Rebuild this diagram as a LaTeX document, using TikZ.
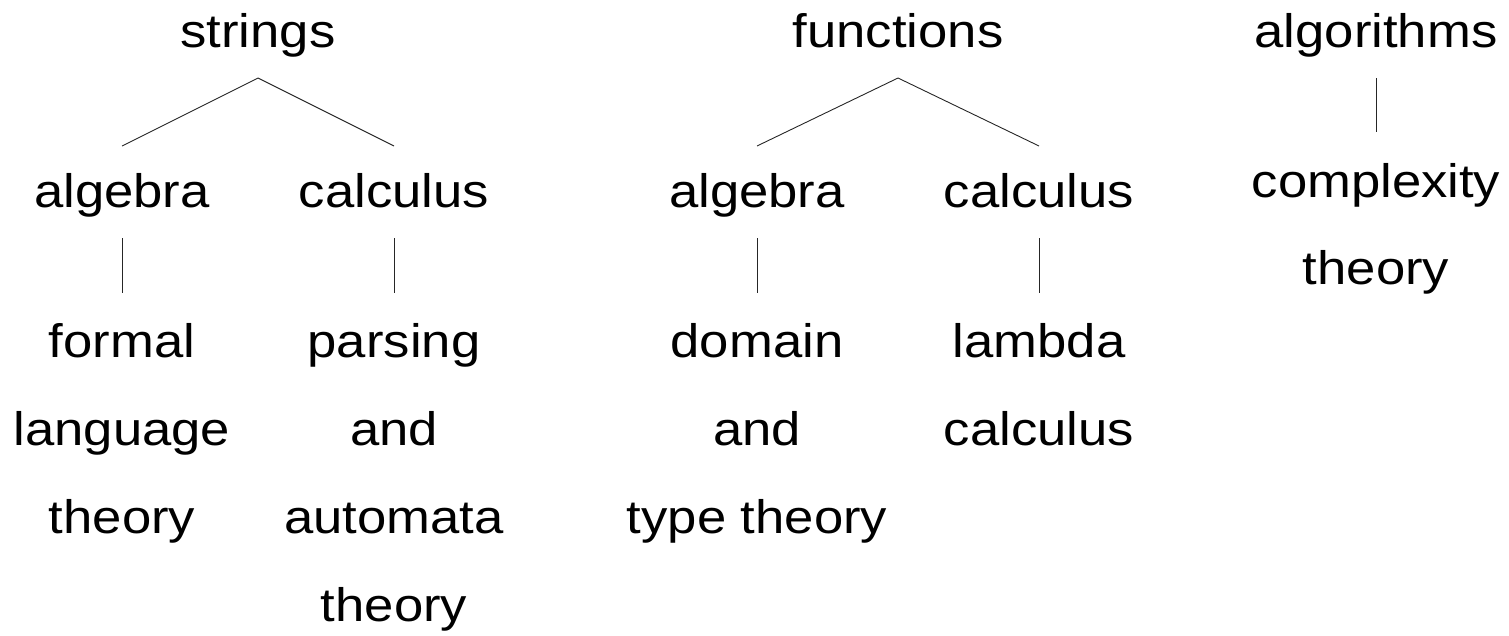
\documentclass[tikz,border=0pt]{standalone}
\usepackage{fontspec}
\setmainfont{Liberation Sans}[FakeStretch=1.12]
\begin{document}
\begin{tikzpicture}[x=1pt,y=-1pt,
  lbl/.style={font=\fontsize{47}{88}\selectfont, align=center, inner sep=0pt, anchor=base},
  multi/.style={lbl, anchor=north},
  edge/.style={line width=0.9pt, black!85}]
\useasboundingbox (0,0) rectangle (1509,635);
% roots
\node[lbl] (strings) at (258,47) {strings};
\node[lbl] (functions) at (898,47) {functions};
\node[lbl] (algorithms) at (1376,47) {algorithms};
% level 1
\node[lbl] (salg) at (122,207) {algebra};
\node[lbl] (scalc) at (394,207) {calculus};
\node[lbl] (falg) at (757,207) {algebra};
\node[lbl] (fcalc) at (1039,207) {calculus};
\node[multi, font=\fontsize{47}{87}\selectfont] (complexity) at (1376,163) {complexity\\theory};
% level 2
\node[multi] (formal) at (122,323) {formal\\language\\theory};
\node[multi] (parsing) at (394,323.4) {parsing\\and\\automata\\theory};
\node[multi] (domain) at (757,323.4) {domain\\and\\type theory};
\node[multi] (lambda) at (1039,323.4) {lambda\\calculus};
% connectors
\draw[edge] ([yshift=-31pt]strings.base) -- ([yshift=61pt]salg.base);
\draw[edge] ([yshift=-31pt]strings.base) -- ([yshift=61pt]scalc.base);
\draw[edge] ([yshift=-31pt]functions.base) -- ([yshift=61pt]falg.base);
\draw[edge] ([yshift=-31pt]functions.base) -- ([yshift=61pt]fcalc.base);
\draw[edge] ([yshift=-31pt]algorithms.base) -- ([yshift=31pt]complexity.north);
\draw[edge] ([yshift=-31pt]salg.base) -- ([yshift=30pt]formal.north);
\draw[edge] ([yshift=-31pt]scalc.base) -- ([yshift=30pt]parsing.north);
\draw[edge] ([yshift=-31pt]falg.base) -- ([yshift=30pt]domain.north);
\draw[edge] ([yshift=-31pt]fcalc.base) -- ([yshift=30pt]lambda.north);
\end{tikzpicture}
\end{document}
